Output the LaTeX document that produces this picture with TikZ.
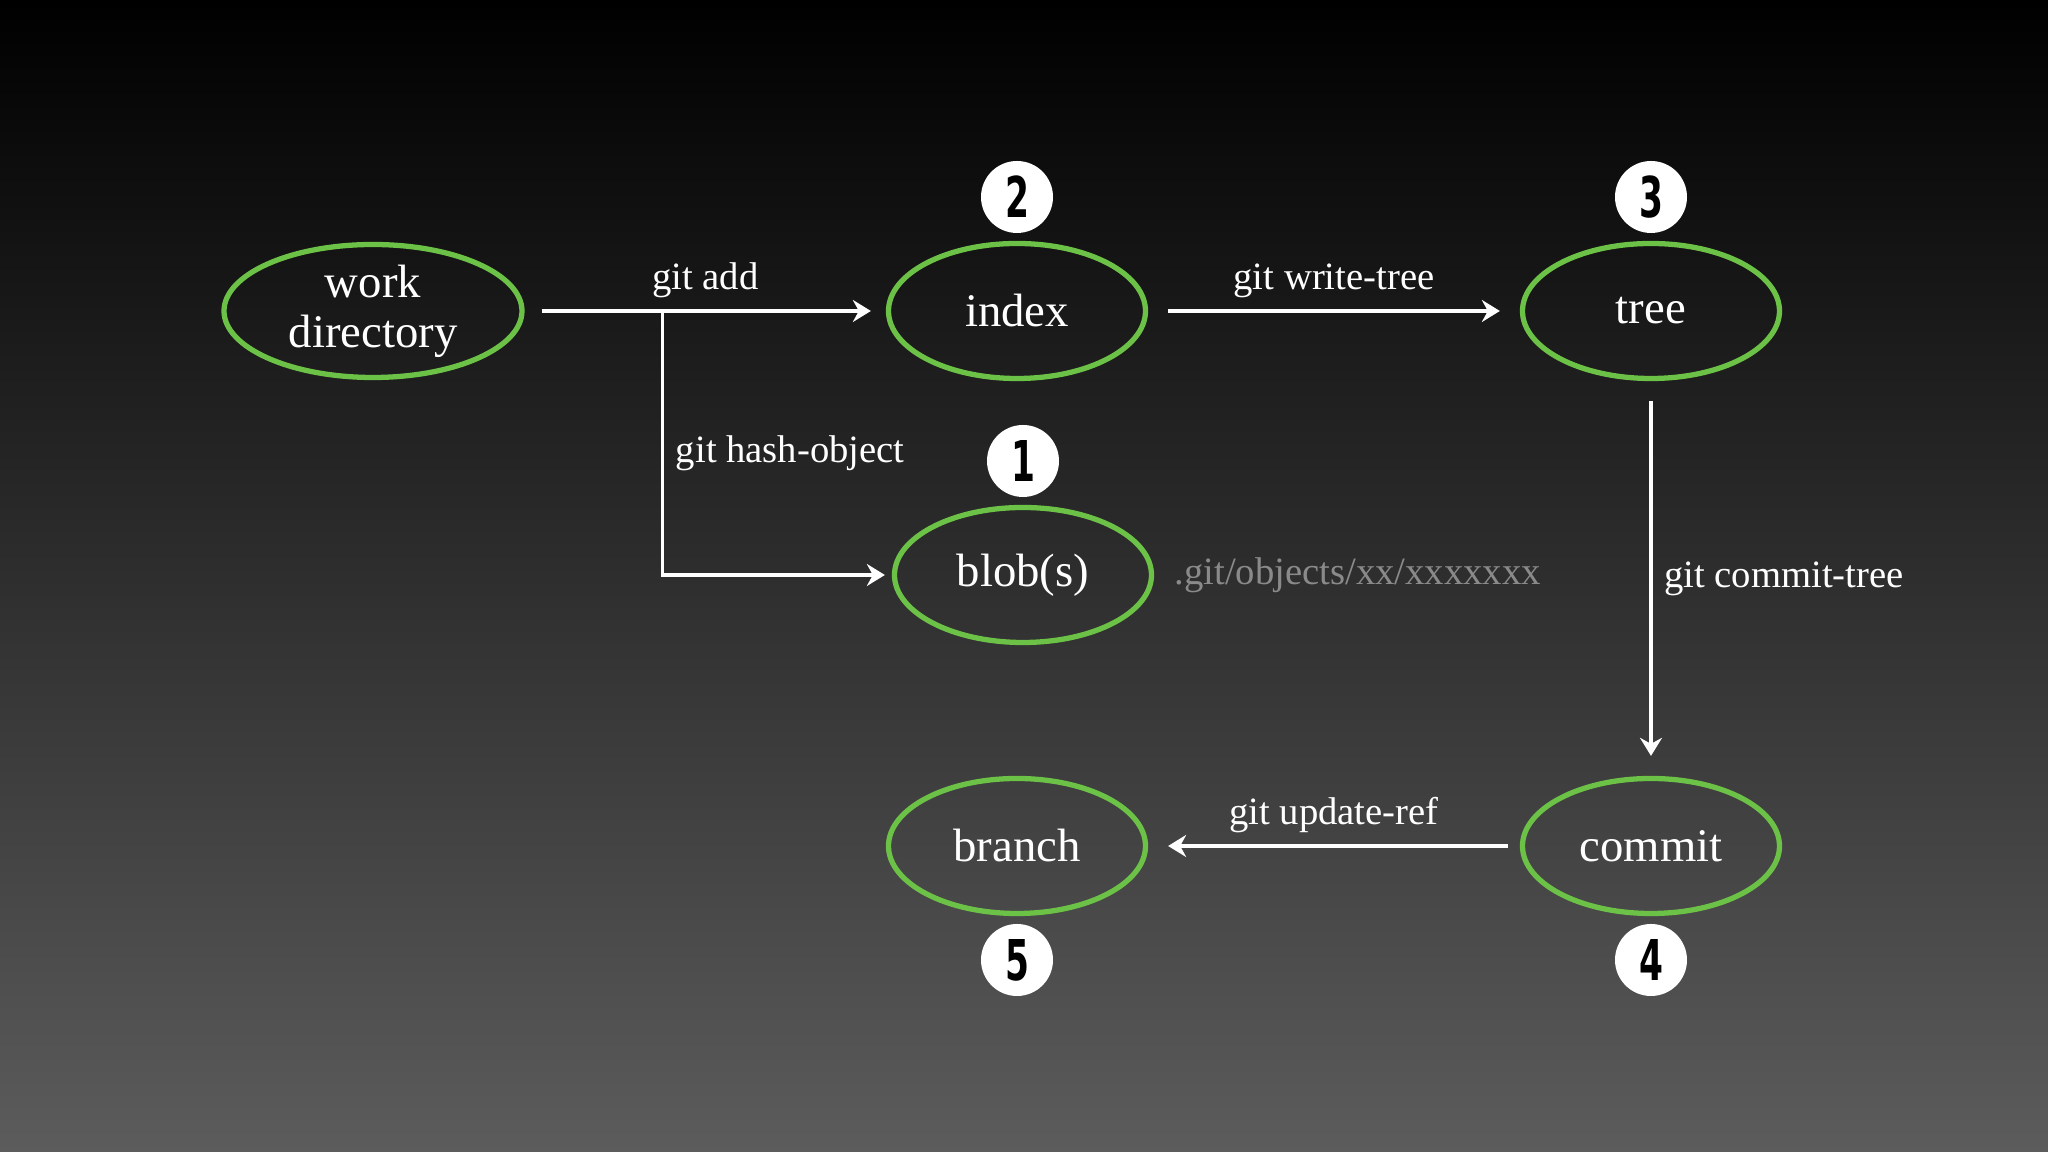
\documentclass[tikz,border=0pt]{standalone}
\usepackage{fontspec}
\setmainfont{Liberation Serif}
\newfontfamily\numfont[FakeStretch=0.68]{DejaVu Sans Condensed Bold}
\usetikzlibrary{positioning}
\usetikzlibrary{shapes.geometric}
\usetikzlibrary{arrows.meta}
\definecolor{chalkgreen}{RGB}{108,194,70}
\definecolor{bgbottom}{RGB}{92,92,92}
\definecolor{pathgray}{RGB}{138,138,138}

\begin{document}
\begin{tikzpicture}
  [obj/.style={ellipse, draw=chalkgreen, line width=1.5pt, minimum width=2.57cm, minimum height=1.35cm,
     inner sep=0pt, align=center, text=white, font=\fontsize{13.3}{14.2}\selectfont},
   num/.style={circle, fill=white, minimum size=0.72cm, inner sep=0pt, font=\numfont\fontsize{16}{16}\selectfont},
   flow/.style={draw=white, line width=0.9pt, -{Stealth[length=1.8mm, width=2.2mm, inset=0.6mm]},
     shorten <=0.2cm, shorten >=0.2cm},
   lbl/.style={text=white, font=\fontsize{11}{13}\selectfont},
   node distance=1.14cm, on grid]
  \shade[top color=black, bottom color=bgbottom] (0,0) rectangle (20.48,11.52);
  \useasboundingbox (0,0) rectangle (20.48,11.52);

  \node (work) [obj, minimum width=2.98cm, minimum height=1.33cm] at (3.73,8.41) {work\\directory};
  \node (index) [obj, right=6.44cm of work] {index};
  \node (tree) [obj, right=6.34cm of index] {tree};
  \node (blob) [obj, below=2.64cm of index, xshift=0.06cm] {blob(s)};
  \node (commit) [obj, below=5.35cm of tree] {commit};
  \node (branch) [obj, left=6.34cm of commit] {branch};

  \node (n1) [num, above=of blob] {1};
  \node (n2) [num, above=of index] {2};
  \node (n3) [num, above=of tree] {3};
  \node (n4) [num, below=of commit] {4};
  \node (n5) [num, below=of branch] {5};

  \node (objpath) [lbl, text=pathgray, anchor=west] at ([xshift=0.08cm]blob.east) {.git/objects/xx/xxxxxxx};
  \coordinate (fork) at ([xshift=1.38cm]work.east);

  \draw[flow, shorten <=0.17cm, shorten >=0.15cm] (work) -- (index) node[lbl, midway, above] {git add};
  \draw[flow, shorten <=0pt, shorten >=0.07cm] (fork) |- (blob) node[lbl, pos=0.27, right] {git hash-object};
  \draw[flow] (index) -- (tree) node[lbl, midway, above] {git write-tree};
  \draw[flow] (tree) -- (commit) node[lbl, midway, right] {git commit-tree};
  \draw[flow, shorten <=0.12cm] (commit) -- (branch) node[lbl, midway, above] {git update-ref};
\end{tikzpicture}
\end{document}
